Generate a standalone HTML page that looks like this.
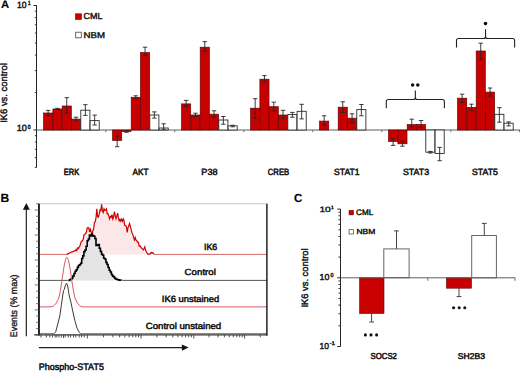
<!DOCTYPE html>
<html><head><meta charset="utf-8"><style>
html,body{margin:0;padding:0;background:#fff;}
svg{display:block;font-family:"Liberation Sans", sans-serif;text-rendering:geometricPrecision;}
</style></head><body>
<svg width="520" height="373" viewBox="0 0 520 373">
<rect width="520" height="373" fill="#fff"/>
<line x1="36.5" y1="5.3" x2="36.5" y2="167.48" stroke="#262626" stroke-width="1"/>
<line x1="33.5" y1="5.50" x2="36.5" y2="5.50" stroke="#262626" stroke-width="1"/>
<line x1="33.5" y1="130.00" x2="36.5" y2="130.00" stroke="#262626" stroke-width="1"/>
<line x1="34.8" y1="92.52" x2="36.5" y2="92.52" stroke="#262626" stroke-width="0.9"/>
<line x1="34.8" y1="70.60" x2="36.5" y2="70.60" stroke="#262626" stroke-width="0.9"/>
<line x1="34.8" y1="55.04" x2="36.5" y2="55.04" stroke="#262626" stroke-width="0.9"/>
<line x1="34.8" y1="42.98" x2="36.5" y2="42.98" stroke="#262626" stroke-width="0.9"/>
<line x1="34.8" y1="33.12" x2="36.5" y2="33.12" stroke="#262626" stroke-width="0.9"/>
<line x1="34.8" y1="24.79" x2="36.5" y2="24.79" stroke="#262626" stroke-width="0.9"/>
<line x1="34.8" y1="17.57" x2="36.5" y2="17.57" stroke="#262626" stroke-width="0.9"/>
<line x1="34.8" y1="11.20" x2="36.5" y2="11.20" stroke="#262626" stroke-width="0.9"/>
<line x1="34.8" y1="167.48" x2="36.5" y2="167.48" stroke="#262626" stroke-width="0.9"/>
<line x1="34.8" y1="157.62" x2="36.5" y2="157.62" stroke="#262626" stroke-width="0.9"/>
<line x1="34.8" y1="149.29" x2="36.5" y2="149.29" stroke="#262626" stroke-width="0.9"/>
<line x1="34.8" y1="142.07" x2="36.5" y2="142.07" stroke="#262626" stroke-width="0.9"/>
<line x1="34.8" y1="135.70" x2="36.5" y2="135.70" stroke="#262626" stroke-width="0.9"/>
<line x1="36.5" y1="130.0" x2="520" y2="130.0" stroke="#5e5e5e" stroke-width="1"/>
<line x1="105.8" y1="130.0" x2="105.8" y2="132.2" stroke="#5e5e5e" stroke-width="0.9"/>
<line x1="174.8" y1="130.0" x2="174.8" y2="132.2" stroke="#5e5e5e" stroke-width="0.9"/>
<line x1="243.8" y1="130.0" x2="243.8" y2="132.2" stroke="#5e5e5e" stroke-width="0.9"/>
<line x1="312.8" y1="130.0" x2="312.8" y2="132.2" stroke="#5e5e5e" stroke-width="0.9"/>
<line x1="381.8" y1="130.0" x2="381.8" y2="132.2" stroke="#5e5e5e" stroke-width="0.9"/>
<line x1="450.8" y1="130.0" x2="450.8" y2="132.2" stroke="#5e5e5e" stroke-width="0.9"/>
<line x1="519.4" y1="130.0" x2="519.4" y2="132.2" stroke="#5e5e5e" stroke-width="0.9"/>
<rect x="43.60" y="113.00" width="9.10" height="17.00" fill="#c80000" stroke="#6a0000" stroke-width="0.7"/>
<line x1="48.15" y1="110.40" x2="48.15" y2="115.60" stroke="#262626" stroke-width="0.9"/>
<line x1="45.95" y1="110.40" x2="50.35" y2="110.40" stroke="#262626" stroke-width="0.9"/>
<line x1="45.95" y1="115.60" x2="50.35" y2="115.60" stroke="#262626" stroke-width="0.9"/>
<rect x="52.90" y="109.00" width="9.10" height="21.00" fill="#c80000" stroke="#6a0000" stroke-width="0.7"/>
<line x1="57.45" y1="108.40" x2="57.45" y2="109.60" stroke="#262626" stroke-width="0.9"/>
<line x1="55.25" y1="108.40" x2="59.65" y2="108.40" stroke="#262626" stroke-width="0.9"/>
<line x1="55.25" y1="109.60" x2="59.65" y2="109.60" stroke="#262626" stroke-width="0.9"/>
<rect x="62.20" y="106.00" width="9.10" height="24.00" fill="#c80000" stroke="#6a0000" stroke-width="0.7"/>
<line x1="66.75" y1="97.70" x2="66.75" y2="113.00" stroke="#262626" stroke-width="0.9"/>
<line x1="64.55" y1="97.70" x2="68.95" y2="97.70" stroke="#262626" stroke-width="0.9"/>
<line x1="64.55" y1="113.00" x2="68.95" y2="113.00" stroke="#262626" stroke-width="0.9"/>
<rect x="71.50" y="119.10" width="9.10" height="10.90" fill="#c80000" stroke="#6a0000" stroke-width="0.7"/>
<line x1="76.05" y1="117.20" x2="76.05" y2="120.80" stroke="#262626" stroke-width="0.9"/>
<line x1="73.85" y1="117.20" x2="78.25" y2="117.20" stroke="#262626" stroke-width="0.9"/>
<line x1="73.85" y1="120.80" x2="78.25" y2="120.80" stroke="#262626" stroke-width="0.9"/>
<rect x="80.80" y="110.20" width="9.10" height="19.80" fill="#fff" stroke="#222" stroke-width="0.85"/>
<line x1="85.35" y1="104.70" x2="85.35" y2="115.40" stroke="#262626" stroke-width="0.9"/>
<line x1="83.15" y1="104.70" x2="87.55" y2="104.70" stroke="#262626" stroke-width="0.9"/>
<line x1="83.15" y1="115.40" x2="87.55" y2="115.40" stroke="#262626" stroke-width="0.9"/>
<rect x="90.10" y="120.60" width="9.10" height="9.40" fill="#fff" stroke="#222" stroke-width="0.85"/>
<line x1="94.65" y1="115.10" x2="94.65" y2="125.00" stroke="#262626" stroke-width="0.9"/>
<line x1="92.45" y1="115.10" x2="96.85" y2="115.10" stroke="#262626" stroke-width="0.9"/>
<line x1="92.45" y1="125.00" x2="96.85" y2="125.00" stroke="#262626" stroke-width="0.9"/>
<rect x="112.60" y="130.00" width="9.10" height="10.40" fill="#c80000" stroke="#6a0000" stroke-width="0.7"/>
<line x1="117.15" y1="136.00" x2="117.15" y2="146.70" stroke="#262626" stroke-width="0.9"/>
<line x1="114.95" y1="146.70" x2="119.35" y2="146.70" stroke="#262626" stroke-width="0.9"/>
<line x1="114.95" y1="136.00" x2="119.35" y2="136.00" stroke="#262626" stroke-width="0.9"/>
<rect x="121.90" y="130.00" width="9.10" height="1.50" fill="#c80000" stroke="#6a0000" stroke-width="0.7"/>
<line x1="126.45" y1="130.80" x2="126.45" y2="132.30" stroke="#262626" stroke-width="0.9"/>
<line x1="124.25" y1="132.30" x2="128.65" y2="132.30" stroke="#262626" stroke-width="0.9"/>
<line x1="124.25" y1="130.80" x2="128.65" y2="130.80" stroke="#262626" stroke-width="0.9"/>
<rect x="131.20" y="97.30" width="9.10" height="32.70" fill="#c80000" stroke="#6a0000" stroke-width="0.7"/>
<line x1="135.75" y1="95.80" x2="135.75" y2="98.80" stroke="#262626" stroke-width="0.9"/>
<line x1="133.55" y1="95.80" x2="137.95" y2="95.80" stroke="#262626" stroke-width="0.9"/>
<line x1="133.55" y1="98.80" x2="137.95" y2="98.80" stroke="#262626" stroke-width="0.9"/>
<rect x="140.50" y="52.60" width="9.10" height="77.40" fill="#c80000" stroke="#6a0000" stroke-width="0.7"/>
<line x1="145.05" y1="47.20" x2="145.05" y2="55.30" stroke="#262626" stroke-width="0.9"/>
<line x1="142.85" y1="47.20" x2="147.25" y2="47.20" stroke="#262626" stroke-width="0.9"/>
<line x1="142.85" y1="55.30" x2="147.25" y2="55.30" stroke="#262626" stroke-width="0.9"/>
<rect x="149.80" y="115.00" width="9.10" height="15.00" fill="#fff" stroke="#222" stroke-width="0.85"/>
<line x1="154.35" y1="111.90" x2="154.35" y2="118.10" stroke="#262626" stroke-width="0.9"/>
<line x1="152.15" y1="111.90" x2="156.55" y2="111.90" stroke="#262626" stroke-width="0.9"/>
<line x1="152.15" y1="118.10" x2="156.55" y2="118.10" stroke="#262626" stroke-width="0.9"/>
<rect x="159.10" y="128.00" width="9.10" height="2.00" fill="#fff" stroke="#222" stroke-width="0.85"/>
<line x1="163.65" y1="123.80" x2="163.65" y2="129.30" stroke="#262626" stroke-width="0.9"/>
<line x1="161.45" y1="123.80" x2="165.85" y2="123.80" stroke="#262626" stroke-width="0.9"/>
<line x1="161.45" y1="129.30" x2="165.85" y2="129.30" stroke="#262626" stroke-width="0.9"/>
<rect x="181.60" y="103.90" width="9.10" height="26.10" fill="#c80000" stroke="#6a0000" stroke-width="0.7"/>
<line x1="186.15" y1="100.40" x2="186.15" y2="106.50" stroke="#262626" stroke-width="0.9"/>
<line x1="183.95" y1="100.40" x2="188.35" y2="100.40" stroke="#262626" stroke-width="0.9"/>
<line x1="183.95" y1="106.50" x2="188.35" y2="106.50" stroke="#262626" stroke-width="0.9"/>
<rect x="190.90" y="115.00" width="9.10" height="15.00" fill="#c80000" stroke="#6a0000" stroke-width="0.7"/>
<line x1="195.45" y1="113.20" x2="195.45" y2="116.50" stroke="#262626" stroke-width="0.9"/>
<line x1="193.25" y1="113.20" x2="197.65" y2="113.20" stroke="#262626" stroke-width="0.9"/>
<line x1="193.25" y1="116.50" x2="197.65" y2="116.50" stroke="#262626" stroke-width="0.9"/>
<rect x="200.20" y="47.20" width="9.10" height="82.80" fill="#c80000" stroke="#6a0000" stroke-width="0.7"/>
<line x1="204.75" y1="41.60" x2="204.75" y2="51.30" stroke="#262626" stroke-width="0.9"/>
<line x1="202.55" y1="41.60" x2="206.95" y2="41.60" stroke="#262626" stroke-width="0.9"/>
<line x1="202.55" y1="51.30" x2="206.95" y2="51.30" stroke="#262626" stroke-width="0.9"/>
<rect x="209.50" y="114.20" width="9.10" height="15.80" fill="#c80000" stroke="#6a0000" stroke-width="0.7"/>
<line x1="214.05" y1="110.80" x2="214.05" y2="117.00" stroke="#262626" stroke-width="0.9"/>
<line x1="211.85" y1="110.80" x2="216.25" y2="110.80" stroke="#262626" stroke-width="0.9"/>
<line x1="211.85" y1="117.00" x2="216.25" y2="117.00" stroke="#262626" stroke-width="0.9"/>
<rect x="218.80" y="120.00" width="9.10" height="10.00" fill="#fff" stroke="#222" stroke-width="0.85"/>
<line x1="223.35" y1="116.50" x2="223.35" y2="124.20" stroke="#262626" stroke-width="0.9"/>
<line x1="221.15" y1="116.50" x2="225.55" y2="116.50" stroke="#262626" stroke-width="0.9"/>
<line x1="221.15" y1="124.20" x2="225.55" y2="124.20" stroke="#262626" stroke-width="0.9"/>
<rect x="228.10" y="125.80" width="9.10" height="4.20" fill="#fff" stroke="#222" stroke-width="0.85"/>
<line x1="232.65" y1="125.30" x2="232.65" y2="126.80" stroke="#262626" stroke-width="0.9"/>
<line x1="230.45" y1="125.30" x2="234.85" y2="125.30" stroke="#262626" stroke-width="0.9"/>
<line x1="230.45" y1="126.80" x2="234.85" y2="126.80" stroke="#262626" stroke-width="0.9"/>
<rect x="250.60" y="108.20" width="9.10" height="21.80" fill="#c80000" stroke="#6a0000" stroke-width="0.7"/>
<line x1="255.15" y1="98.70" x2="255.15" y2="118.30" stroke="#262626" stroke-width="0.9"/>
<line x1="252.95" y1="98.70" x2="257.35" y2="98.70" stroke="#262626" stroke-width="0.9"/>
<line x1="252.95" y1="118.30" x2="257.35" y2="118.30" stroke="#262626" stroke-width="0.9"/>
<rect x="259.90" y="79.20" width="9.10" height="50.80" fill="#c80000" stroke="#6a0000" stroke-width="0.7"/>
<line x1="264.45" y1="75.60" x2="264.45" y2="82.00" stroke="#262626" stroke-width="0.9"/>
<line x1="262.25" y1="75.60" x2="266.65" y2="75.60" stroke="#262626" stroke-width="0.9"/>
<line x1="262.25" y1="82.00" x2="266.65" y2="82.00" stroke="#262626" stroke-width="0.9"/>
<rect x="269.20" y="106.70" width="9.10" height="23.30" fill="#c80000" stroke="#6a0000" stroke-width="0.7"/>
<line x1="273.75" y1="102.20" x2="273.75" y2="111.00" stroke="#262626" stroke-width="0.9"/>
<line x1="271.55" y1="102.20" x2="275.95" y2="102.20" stroke="#262626" stroke-width="0.9"/>
<line x1="271.55" y1="111.00" x2="275.95" y2="111.00" stroke="#262626" stroke-width="0.9"/>
<rect x="278.50" y="115.00" width="9.10" height="15.00" fill="#c80000" stroke="#6a0000" stroke-width="0.7"/>
<line x1="283.05" y1="110.30" x2="283.05" y2="118.30" stroke="#262626" stroke-width="0.9"/>
<line x1="280.85" y1="110.30" x2="285.25" y2="110.30" stroke="#262626" stroke-width="0.9"/>
<line x1="280.85" y1="118.30" x2="285.25" y2="118.30" stroke="#262626" stroke-width="0.9"/>
<rect x="287.80" y="114.60" width="9.10" height="15.40" fill="#fff" stroke="#222" stroke-width="0.85"/>
<line x1="292.35" y1="112.40" x2="292.35" y2="117.20" stroke="#262626" stroke-width="0.9"/>
<line x1="290.15" y1="112.40" x2="294.55" y2="112.40" stroke="#262626" stroke-width="0.9"/>
<line x1="290.15" y1="117.20" x2="294.55" y2="117.20" stroke="#262626" stroke-width="0.9"/>
<rect x="297.10" y="111.30" width="9.10" height="18.70" fill="#fff" stroke="#222" stroke-width="0.85"/>
<line x1="301.65" y1="104.30" x2="301.65" y2="118.90" stroke="#262626" stroke-width="0.9"/>
<line x1="299.45" y1="104.30" x2="303.85" y2="104.30" stroke="#262626" stroke-width="0.9"/>
<line x1="299.45" y1="118.90" x2="303.85" y2="118.90" stroke="#262626" stroke-width="0.9"/>
<rect x="319.60" y="121.10" width="9.10" height="8.90" fill="#c80000" stroke="#6a0000" stroke-width="0.7"/>
<line x1="324.15" y1="115.80" x2="324.15" y2="125.40" stroke="#262626" stroke-width="0.9"/>
<line x1="321.95" y1="115.80" x2="326.35" y2="115.80" stroke="#262626" stroke-width="0.9"/>
<line x1="321.95" y1="125.40" x2="326.35" y2="125.40" stroke="#262626" stroke-width="0.9"/>
<rect x="338.20" y="107.20" width="9.10" height="22.80" fill="#c80000" stroke="#6a0000" stroke-width="0.7"/>
<line x1="342.75" y1="101.80" x2="342.75" y2="112.50" stroke="#262626" stroke-width="0.9"/>
<line x1="340.55" y1="101.80" x2="344.95" y2="101.80" stroke="#262626" stroke-width="0.9"/>
<line x1="340.55" y1="112.50" x2="344.95" y2="112.50" stroke="#262626" stroke-width="0.9"/>
<rect x="347.50" y="118.20" width="9.10" height="11.80" fill="#c80000" stroke="#6a0000" stroke-width="0.7"/>
<line x1="352.05" y1="113.80" x2="352.05" y2="123.00" stroke="#262626" stroke-width="0.9"/>
<line x1="349.85" y1="113.80" x2="354.25" y2="113.80" stroke="#262626" stroke-width="0.9"/>
<line x1="349.85" y1="123.00" x2="354.25" y2="123.00" stroke="#262626" stroke-width="0.9"/>
<rect x="356.80" y="109.60" width="9.10" height="20.40" fill="#fff" stroke="#222" stroke-width="0.85"/>
<line x1="361.35" y1="104.50" x2="361.35" y2="115.80" stroke="#262626" stroke-width="0.9"/>
<line x1="359.15" y1="104.50" x2="363.55" y2="104.50" stroke="#262626" stroke-width="0.9"/>
<line x1="359.15" y1="115.80" x2="363.55" y2="115.80" stroke="#262626" stroke-width="0.9"/>
<rect x="388.60" y="130.00" width="9.10" height="11.40" fill="#c80000" stroke="#6a0000" stroke-width="0.7"/>
<line x1="393.15" y1="138.50" x2="393.15" y2="145.40" stroke="#262626" stroke-width="0.9"/>
<line x1="390.95" y1="145.40" x2="395.35" y2="145.40" stroke="#262626" stroke-width="0.9"/>
<line x1="390.95" y1="138.50" x2="395.35" y2="138.50" stroke="#262626" stroke-width="0.9"/>
<rect x="397.90" y="130.00" width="9.10" height="13.80" fill="#c80000" stroke="#6a0000" stroke-width="0.7"/>
<line x1="402.45" y1="141.50" x2="402.45" y2="146.20" stroke="#262626" stroke-width="0.9"/>
<line x1="400.25" y1="146.20" x2="404.65" y2="146.20" stroke="#262626" stroke-width="0.9"/>
<line x1="400.25" y1="141.50" x2="404.65" y2="141.50" stroke="#262626" stroke-width="0.9"/>
<rect x="407.20" y="124.50" width="9.10" height="5.50" fill="#c80000" stroke="#6a0000" stroke-width="0.7"/>
<line x1="411.75" y1="119.20" x2="411.75" y2="127.00" stroke="#262626" stroke-width="0.9"/>
<line x1="409.55" y1="119.20" x2="413.95" y2="119.20" stroke="#262626" stroke-width="0.9"/>
<line x1="409.55" y1="127.00" x2="413.95" y2="127.00" stroke="#262626" stroke-width="0.9"/>
<rect x="416.50" y="124.50" width="9.10" height="5.50" fill="#c80000" stroke="#6a0000" stroke-width="0.7"/>
<line x1="421.05" y1="120.50" x2="421.05" y2="127.50" stroke="#262626" stroke-width="0.9"/>
<line x1="418.85" y1="120.50" x2="423.25" y2="120.50" stroke="#262626" stroke-width="0.9"/>
<line x1="418.85" y1="127.50" x2="423.25" y2="127.50" stroke="#262626" stroke-width="0.9"/>
<rect x="425.80" y="130.00" width="9.10" height="22.20" fill="#fff" stroke="#222" stroke-width="0.85"/>
<line x1="430.35" y1="151.40" x2="430.35" y2="153.00" stroke="#262626" stroke-width="0.9"/>
<line x1="428.15" y1="153.00" x2="432.55" y2="153.00" stroke="#262626" stroke-width="0.9"/>
<line x1="428.15" y1="151.40" x2="432.55" y2="151.40" stroke="#262626" stroke-width="0.9"/>
<rect x="435.10" y="130.00" width="9.10" height="23.50" fill="#fff" stroke="#222" stroke-width="0.85"/>
<line x1="439.65" y1="147.40" x2="439.65" y2="160.70" stroke="#262626" stroke-width="0.9"/>
<line x1="437.45" y1="160.70" x2="441.85" y2="160.70" stroke="#262626" stroke-width="0.9"/>
<line x1="437.45" y1="147.40" x2="441.85" y2="147.40" stroke="#262626" stroke-width="0.9"/>
<rect x="457.60" y="98.20" width="9.10" height="31.80" fill="#c80000" stroke="#6a0000" stroke-width="0.7"/>
<line x1="462.15" y1="94.20" x2="462.15" y2="102.50" stroke="#262626" stroke-width="0.9"/>
<line x1="459.95" y1="94.20" x2="464.35" y2="94.20" stroke="#262626" stroke-width="0.9"/>
<line x1="459.95" y1="102.50" x2="464.35" y2="102.50" stroke="#262626" stroke-width="0.9"/>
<rect x="466.90" y="107.40" width="9.10" height="22.60" fill="#c80000" stroke="#6a0000" stroke-width="0.7"/>
<line x1="471.45" y1="104.20" x2="471.45" y2="110.60" stroke="#262626" stroke-width="0.9"/>
<line x1="469.25" y1="104.20" x2="473.65" y2="104.20" stroke="#262626" stroke-width="0.9"/>
<line x1="469.25" y1="110.60" x2="473.65" y2="110.60" stroke="#262626" stroke-width="0.9"/>
<rect x="476.20" y="51.00" width="9.10" height="79.00" fill="#c80000" stroke="#6a0000" stroke-width="0.7"/>
<line x1="480.75" y1="43.20" x2="480.75" y2="59.30" stroke="#262626" stroke-width="0.9"/>
<line x1="478.55" y1="43.20" x2="482.95" y2="43.20" stroke="#262626" stroke-width="0.9"/>
<line x1="478.55" y1="59.30" x2="482.95" y2="59.30" stroke="#262626" stroke-width="0.9"/>
<rect x="485.50" y="92.10" width="9.10" height="37.90" fill="#c80000" stroke="#6a0000" stroke-width="0.7"/>
<line x1="490.05" y1="88.00" x2="490.05" y2="96.10" stroke="#262626" stroke-width="0.9"/>
<line x1="487.85" y1="88.00" x2="492.25" y2="88.00" stroke="#262626" stroke-width="0.9"/>
<line x1="487.85" y1="96.10" x2="492.25" y2="96.10" stroke="#262626" stroke-width="0.9"/>
<rect x="494.80" y="114.30" width="9.10" height="15.70" fill="#fff" stroke="#222" stroke-width="0.85"/>
<line x1="499.35" y1="107.70" x2="499.35" y2="122.20" stroke="#262626" stroke-width="0.9"/>
<line x1="497.15" y1="107.70" x2="501.55" y2="107.70" stroke="#262626" stroke-width="0.9"/>
<line x1="497.15" y1="122.20" x2="501.55" y2="122.20" stroke="#262626" stroke-width="0.9"/>
<rect x="504.10" y="123.20" width="9.10" height="6.80" fill="#fff" stroke="#222" stroke-width="0.85"/>
<line x1="508.65" y1="121.90" x2="508.65" y2="125.90" stroke="#262626" stroke-width="0.9"/>
<line x1="506.45" y1="121.90" x2="510.85" y2="121.90" stroke="#262626" stroke-width="0.9"/>
<line x1="506.45" y1="125.90" x2="510.85" y2="125.90" stroke="#262626" stroke-width="0.9"/>
<path d="M386.3,108.3 L386.3,101.5 Q386.3,99.5 388.3,99.5 L413.35,99.5 Q415.35,99.5 415.35,97.5 L415.35,90.6 M415.35,97.5 Q415.35,99.5 417.35,99.5 L442.4,99.5 Q444.4,99.5 444.4,101.5 L444.4,108.3" fill="none" stroke="#222" stroke-width="1.1"/>
<path d="M456.5,47.6 L456.5,40.5 Q456.5,38.5 458.5,38.5 L483.55,38.5 Q485.55,38.5 485.55,36.5 L485.55,29.2 M485.55,36.5 Q485.55,38.5 487.55,38.5 L512.6,38.5 Q514.6,38.5 514.6,40.5 L514.6,47.6" fill="none" stroke="#222" stroke-width="1.1"/>
<circle cx="412.6" cy="84.9" r="1.75" fill="#111"/>
<circle cx="417.8" cy="84.9" r="1.75" fill="#111"/>
<circle cx="485.5" cy="23.6" r="1.8" fill="#111"/>
<text transform="translate(63.746,174.550) scale(0.07551,0.09130)" font-size="100" font-weight="normal" fill="#111" stroke="#111" stroke-width="5.99" stroke-linejoin="round">ERK</text>
<text transform="translate(132.450,174.550) scale(0.08229,0.09130)" font-size="100" font-weight="normal" fill="#111" stroke="#111" stroke-width="5.76" stroke-linejoin="round">AKT</text>
<text transform="translate(201.323,174.550) scale(0.09091,0.09000)" font-size="100" font-weight="normal" fill="#111" stroke="#111" stroke-width="5.53" stroke-linejoin="round">P38</text>
<text transform="translate(267.764,174.550) scale(0.07724,0.09000)" font-size="100" font-weight="normal" fill="#111" stroke="#111" stroke-width="5.98" stroke-linejoin="round">CREB</text>
<text transform="translate(334.018,174.550) scale(0.08636,0.09000)" font-size="100" font-weight="normal" fill="#111" stroke="#111" stroke-width="5.67" stroke-linejoin="round">STAT1</text>
<text transform="translate(403.011,174.550) scale(0.08780,0.09000)" font-size="100" font-weight="normal" fill="#111" stroke="#111" stroke-width="5.62" stroke-linejoin="round">STAT3</text>
<text transform="translate(472.014,174.550) scale(0.08711,0.09000)" font-size="100" font-weight="normal" fill="#111" stroke="#111" stroke-width="5.65" stroke-linejoin="round">STAT5</text>
<text transform="translate(16.925,8.090) scale(0.08566,0.08971)" font-size="100" font-weight="normal" fill="#111" stroke="#111" stroke-width="4.79" stroke-linejoin="round">10</text>
<text transform="translate(28.042,5.190) scale(0.04605,0.06058)" font-size="100" font-weight="normal" fill="#111" stroke="#111" stroke-width="7.88" stroke-linejoin="round">1</text>
<text transform="translate(16.684,131.390) scale(0.09071,0.08971)" font-size="100" font-weight="normal" fill="#111" stroke="#111" stroke-width="4.66" stroke-linejoin="round">10</text>
<text transform="translate(27.712,128.690) scale(0.04958,0.05971)" font-size="100" font-weight="normal" fill="#111" stroke="#111" stroke-width="7.69" stroke-linejoin="round">0</text>
<text transform="translate(7.140,122.837) rotate(-90) scale(0.09414,0.09486)" font-size="100" font-weight="normal" fill="#111" stroke="#111" stroke-width="4.44" stroke-linejoin="round">IK6 vs. control</text>
<rect x="75.5" y="13.8" width="6" height="5.6" fill="#c80000" stroke="#6a0000" stroke-width="0.6"/>
<text transform="translate(83.560,19.090) scale(0.09005,0.08686)" font-size="100" font-weight="normal" fill="#111" stroke="#111" stroke-width="4.75" stroke-linejoin="round">CML</text>
<rect x="75.7" y="32.2" width="5.6" height="5.6" fill="#fff" stroke="#444" stroke-width="0.8"/>
<text transform="translate(83.534,37.790) scale(0.09699,0.08377)" font-size="100" font-weight="normal" fill="#111" stroke="#111" stroke-width="4.65" stroke-linejoin="round">NBM</text>
<text transform="translate(1.011,7.950) scale(0.11288,0.10870)" font-size="100" font-weight="bold" fill="#000" stroke="#000" stroke-width="0.90" stroke-linejoin="round">A</text>
<text transform="translate(0.401,202.450) scale(0.12131,0.11884)" font-size="100" font-weight="bold" fill="#000" stroke="#000" stroke-width="0.83" stroke-linejoin="round">B</text>
<line x1="26.3" y1="336.3" x2="26.3" y2="209" stroke="#111" stroke-width="1.1"/>
<path d="M22.9,209.8 L29.8,209.8 L26.3,203.0 Z" fill="#111"/>
<line x1="38.9" y1="347.6" x2="182.5" y2="347.6" stroke="#222" stroke-width="1.2"/>
<path d="M181.9,344.6 L181.9,350.7 L188.6,347.6 Z" fill="#111"/>
<text transform="translate(38.629,370.450) scale(0.09017,0.09444)" font-size="100" font-weight="normal" fill="#111" stroke="#111" stroke-width="5.42" stroke-linejoin="round">Phospho-STAT5</text>
<text transform="translate(17.250,337.262) rotate(-90) scale(0.08902,0.09583)" font-size="100" font-weight="normal" fill="#111" stroke="#111" stroke-width="3.25" stroke-linejoin="round">Events (% max)</text>
<path d="M38.90,254.40 L66.40,254.40 L67.20,254.32 L68.00,253.54 L68.80,253.43 L69.60,252.92 L70.40,252.46 L71.20,252.14 L72.00,251.94 L72.80,251.61 L73.60,251.45 L74.40,250.84 L75.20,250.91 L76.00,249.57 L76.80,250.50 L77.60,247.94 L78.40,248.52 L79.20,247.06 L80.00,245.75 L80.80,242.70 L81.60,240.99 L82.40,240.86 L83.20,239.39 L84.00,234.80 L84.80,234.26 L85.60,233.53 L86.40,232.11 L87.20,228.08 L88.00,227.47 L88.80,227.96 L89.60,231.95 L90.40,229.39 L91.20,232.13 L92.00,234.88 L92.80,230.99 L93.60,229.04 L94.40,222.67 L95.20,221.96 L96.00,217.93 L96.80,208.87 L97.60,216.81 L98.40,216.97 L99.20,214.21 L100.00,209.88 L100.80,210.64 L101.60,204.23 L102.40,210.64 L103.20,212.58 L104.00,208.87 L104.80,210.42 L105.60,210.04 L106.40,208.88 L107.20,213.83 L108.00,213.74 L108.80,216.16 L109.60,218.98 L110.40,216.42 L111.20,217.32 L112.00,214.66 L112.80,218.98 L113.60,216.98 L114.40,211.50 L115.20,215.43 L116.00,218.70 L116.80,216.18 L117.60,213.15 L118.40,217.95 L119.20,220.68 L120.00,219.40 L120.80,221.24 L121.60,219.35 L122.40,221.30 L123.20,218.77 L124.00,220.39 L124.80,225.50 L125.60,225.57 L126.40,226.63 L127.20,232.38 L128.00,227.55 L128.80,225.38 L129.60,223.40 L130.40,227.01 L131.20,229.60 L132.00,233.10 L132.80,234.42 L133.60,237.42 L134.40,239.98 L135.20,237.53 L136.00,240.06 L136.80,240.73 L137.60,242.29 L138.40,242.30 L139.20,246.21 L140.00,245.83 L140.80,247.22 L141.60,248.03 L142.40,248.92 L143.20,250.00 L144.00,248.74 L144.80,246.83 L145.60,250.29 L146.40,251.82 L147.20,253.21 L148.00,254.35 L148.80,253.99 L149.60,254.08 L150.40,253.49 L151.20,252.45 L152.00,253.23 L152.80,252.59 L153.60,253.85 L154.40,254.11 L266.90,254.40 Z" fill="#fce8e8" stroke="none"/>
<path d="M38.90,280.40 L68.50,280.40 L69.60,280.40 L69.60,279.74 L70.70,279.74 L70.70,279.12 L71.80,279.12 L71.80,277.98 L72.90,277.98 L72.90,275.83 L74.00,275.83 L74.00,273.56 L75.10,273.56 L75.10,271.25 L76.20,271.25 L76.20,269.76 L77.30,269.76 L77.30,267.34 L78.40,267.34 L78.40,265.46 L79.50,265.46 L79.50,264.71 L80.60,264.71 L80.60,263.21 L81.70,263.21 L81.70,258.56 L82.80,258.56 L82.80,255.90 L83.90,255.90 L83.90,251.76 L85.00,251.76 L85.00,250.07 L86.10,250.07 L86.10,246.26 L87.20,246.26 L87.20,240.79 L88.30,240.79 L88.30,239.07 L89.40,239.07 L89.40,235.12 L90.50,235.12 L90.50,235.93 L91.60,235.93 L91.60,234.38 L92.70,234.38 L92.70,235.86 L93.80,235.86 L93.80,236.25 L94.90,236.25 L94.90,238.56 L96.00,238.56 L96.00,245.43 L97.10,245.43 L97.10,244.97 L98.20,244.97 L98.20,244.64 L99.30,244.64 L99.30,248.25 L100.40,248.25 L100.40,251.37 L101.50,251.37 L101.50,254.10 L102.60,254.10 L102.60,255.32 L103.70,255.32 L103.70,258.21 L104.80,258.21 L104.80,258.93 L105.90,258.93 L105.90,262.42 L107.00,262.42 L107.00,264.51 L108.10,264.51 L108.10,267.45 L109.20,267.45 L109.20,270.29 L110.30,270.29 L110.30,271.95 L111.40,271.95 L111.40,274.47 L112.50,274.47 L112.50,276.15 L113.60,276.15 L113.60,276.99 L114.70,276.99 L114.70,278.38 L115.80,278.38 L115.80,279.02 L116.90,279.02 L116.90,279.49 L118.00,279.49 L118.00,279.78 L119.10,279.78 L119.10,280.09 L120.20,280.09 L120.20,280.29 L121.30,280.29 L121.30,280.34 L266.90,280.40 Z" fill="#e4e4e4" stroke="none"/>
<line x1="39.1" y1="203.8" x2="266.9" y2="203.8" stroke="#c8c8c8" stroke-width="1"/>
<path d="M38.90,254.40 L66.40,254.40" fill="none" stroke="#d05a5a" stroke-width="0.9"/>
<path d="M154.60,254.40 L266.90,254.40" fill="none" stroke="#d05a5a" stroke-width="0.9"/>
<path d="M66.40,254.40 L67.20,254.32 L68.00,253.54 L68.80,253.43 L69.60,252.92 L70.40,252.46 L71.20,252.14 L72.00,251.94 L72.80,251.61 L73.60,251.45 L74.40,250.84 L75.20,250.91 L76.00,249.57 L76.80,250.50 L77.60,247.94 L78.40,248.52 L79.20,247.06 L80.00,245.75 L80.80,242.70 L81.60,240.99 L82.40,240.86 L83.20,239.39 L84.00,234.80 L84.80,234.26 L85.60,233.53 L86.40,232.11 L87.20,228.08 L88.00,227.47 L88.80,227.96 L89.60,231.95 L90.40,229.39 L91.20,232.13 L92.00,234.88 L92.80,230.99 L93.60,229.04 L94.40,222.67 L95.20,221.96 L96.00,217.93 L96.80,208.87 L97.60,216.81 L98.40,216.97 L99.20,214.21 L100.00,209.88 L100.80,210.64 L101.60,204.23 L102.40,210.64 L103.20,212.58 L104.00,208.87 L104.80,210.42 L105.60,210.04 L106.40,208.88 L107.20,213.83 L108.00,213.74 L108.80,216.16 L109.60,218.98 L110.40,216.42 L111.20,217.32 L112.00,214.66 L112.80,218.98 L113.60,216.98 L114.40,211.50 L115.20,215.43 L116.00,218.70 L116.80,216.18 L117.60,213.15 L118.40,217.95 L119.20,220.68 L120.00,219.40 L120.80,221.24 L121.60,219.35 L122.40,221.30 L123.20,218.77 L124.00,220.39 L124.80,225.50 L125.60,225.57 L126.40,226.63 L127.20,232.38 L128.00,227.55 L128.80,225.38 L129.60,223.40 L130.40,227.01 L131.20,229.60 L132.00,233.10 L132.80,234.42 L133.60,237.42 L134.40,239.98 L135.20,237.53 L136.00,240.06 L136.80,240.73 L137.60,242.29 L138.40,242.30 L139.20,246.21 L140.00,245.83 L140.80,247.22 L141.60,248.03 L142.40,248.92 L143.20,250.00 L144.00,248.74 L144.80,246.83 L145.60,250.29 L146.40,251.82 L147.20,253.21 L148.00,254.35 L148.80,253.99 L149.60,254.08 L150.40,253.49 L151.20,252.45 L152.00,253.23 L152.80,252.59 L153.60,253.85 L154.40,254.11" fill="none" stroke="#d00000" stroke-width="1.2" stroke-linejoin="miter"/>
<path d="M38.90,280.40 L68.50,280.40" fill="none" stroke="#444" stroke-width="0.9"/>
<path d="M122.20,280.40 L266.90,280.40" fill="none" stroke="#444" stroke-width="0.9"/>
<path d="M68.50,280.40 L69.60,280.40 L69.60,279.74 L70.70,279.74 L70.70,279.12 L71.80,279.12 L71.80,277.98 L72.90,277.98 L72.90,275.83 L74.00,275.83 L74.00,273.56 L75.10,273.56 L75.10,271.25 L76.20,271.25 L76.20,269.76 L77.30,269.76 L77.30,267.34 L78.40,267.34 L78.40,265.46 L79.50,265.46 L79.50,264.71 L80.60,264.71 L80.60,263.21 L81.70,263.21 L81.70,258.56 L82.80,258.56 L82.80,255.90 L83.90,255.90 L83.90,251.76 L85.00,251.76 L85.00,250.07 L86.10,250.07 L86.10,246.26 L87.20,246.26 L87.20,240.79 L88.30,240.79 L88.30,239.07 L89.40,239.07 L89.40,235.12 L90.50,235.12 L90.50,235.93 L91.60,235.93 L91.60,234.38 L92.70,234.38 L92.70,235.86 L93.80,235.86 L93.80,236.25 L94.90,236.25 L94.90,238.56 L96.00,238.56 L96.00,245.43 L97.10,245.43 L97.10,244.97 L98.20,244.97 L98.20,244.64 L99.30,244.64 L99.30,248.25 L100.40,248.25 L100.40,251.37 L101.50,251.37 L101.50,254.10 L102.60,254.10 L102.60,255.32 L103.70,255.32 L103.70,258.21 L104.80,258.21 L104.80,258.93 L105.90,258.93 L105.90,262.42 L107.00,262.42 L107.00,264.51 L108.10,264.51 L108.10,267.45 L109.20,267.45 L109.20,270.29 L110.30,270.29 L110.30,271.95 L111.40,271.95 L111.40,274.47 L112.50,274.47 L112.50,276.15 L113.60,276.15 L113.60,276.99 L114.70,276.99 L114.70,278.38 L115.80,278.38 L115.80,279.02 L116.90,279.02 L116.90,279.49 L118.00,279.49 L118.00,279.78 L119.10,279.78 L119.10,280.09 L120.20,280.09 L120.20,280.29 L121.30,280.29 L121.30,280.34" fill="none" stroke="#000" stroke-width="1.6" stroke-linejoin="miter"/>
<path d="M38.90,306.90 L50.00,306.90 L53.20,306.30 L56.40,303.00 L58.80,298.00 L60.50,290.00 L61.70,282.00 L62.90,274.00 L64.10,266.00 L65.30,260.50 L66.10,258.30 L66.90,257.30 L67.70,258.30 L68.50,260.50 L69.60,266.00 L70.90,274.00 L72.00,282.00 L73.30,290.00 L74.90,298.00 L77.30,303.00 L80.50,306.30 L83.00,306.90 L266.90,306.90" fill="none" stroke="#d85a6a" stroke-width="1" stroke-linejoin="round"/>
<path d="M38.90,333.50 L54.20,333.50" fill="none" stroke="#8a8a8a" stroke-width="1.1"/>
<path d="M80.50,333.50 L266.90,333.50" fill="none" stroke="#8a8a8a" stroke-width="1.1"/>
<path d="M54.20,333.50 L55.70,331.80 L57.50,325.00 L59.80,316.00 L61.30,305.50 L62.80,295.00 L63.60,290.50 L64.30,289.30 L65.20,286.00 L66.50,283.20 L67.70,286.00 L68.80,293.50 L69.80,298.00 L71.00,302.50 L72.50,310.00 L74.80,320.50 L77.00,328.00 L79.30,332.50 L80.50,333.50" fill="none" stroke="#3a3a3a" stroke-width="1" stroke-linejoin="round"/>
<line x1="38.95" y1="203.8" x2="38.95" y2="335.5" stroke="#111" stroke-width="1.8"/>
<line x1="266.9" y1="203.8" x2="266.9" y2="335.7" stroke="#111" stroke-width="1.4"/>
<line x1="34.2" y1="334.9" x2="266.9" y2="334.9" stroke="#333" stroke-width="1.2"/>
<line x1="36.1" y1="203.80" x2="39.1" y2="203.80" stroke="#555" stroke-width="0.8"/>
<line x1="34.7" y1="210.04" x2="39.1" y2="210.04" stroke="#555" stroke-width="0.8"/>
<line x1="36.1" y1="216.28" x2="39.1" y2="216.28" stroke="#555" stroke-width="0.8"/>
<line x1="36.1" y1="222.52" x2="39.1" y2="222.52" stroke="#555" stroke-width="0.8"/>
<line x1="36.1" y1="228.76" x2="39.1" y2="228.76" stroke="#555" stroke-width="0.8"/>
<line x1="34.7" y1="235.00" x2="39.1" y2="235.00" stroke="#555" stroke-width="0.8"/>
<line x1="36.1" y1="241.24" x2="39.1" y2="241.24" stroke="#555" stroke-width="0.8"/>
<line x1="36.1" y1="247.48" x2="39.1" y2="247.48" stroke="#555" stroke-width="0.8"/>
<line x1="36.1" y1="253.72" x2="39.1" y2="253.72" stroke="#555" stroke-width="0.8"/>
<line x1="34.7" y1="259.96" x2="39.1" y2="259.96" stroke="#555" stroke-width="0.8"/>
<line x1="36.1" y1="266.20" x2="39.1" y2="266.20" stroke="#555" stroke-width="0.8"/>
<line x1="36.1" y1="272.44" x2="39.1" y2="272.44" stroke="#555" stroke-width="0.8"/>
<line x1="36.1" y1="278.68" x2="39.1" y2="278.68" stroke="#555" stroke-width="0.8"/>
<line x1="34.7" y1="284.92" x2="39.1" y2="284.92" stroke="#555" stroke-width="0.8"/>
<line x1="36.1" y1="291.16" x2="39.1" y2="291.16" stroke="#555" stroke-width="0.8"/>
<line x1="36.1" y1="297.40" x2="39.1" y2="297.40" stroke="#555" stroke-width="0.8"/>
<line x1="36.1" y1="303.64" x2="39.1" y2="303.64" stroke="#555" stroke-width="0.8"/>
<line x1="34.7" y1="309.88" x2="39.1" y2="309.88" stroke="#555" stroke-width="0.8"/>
<line x1="36.1" y1="316.12" x2="39.1" y2="316.12" stroke="#555" stroke-width="0.8"/>
<line x1="36.1" y1="322.36" x2="39.1" y2="322.36" stroke="#555" stroke-width="0.8"/>
<line x1="36.1" y1="328.60" x2="39.1" y2="328.60" stroke="#555" stroke-width="0.8"/>
<line x1="36.1" y1="334.84" x2="39.1" y2="334.84" stroke="#555" stroke-width="0.8"/>
<line x1="41.00" y1="334.9" x2="41.00" y2="337.50" stroke="#333" stroke-width="0.85"/>
<line x1="46.40" y1="334.9" x2="46.40" y2="337.50" stroke="#333" stroke-width="0.85"/>
<line x1="49.80" y1="334.9" x2="49.80" y2="337.50" stroke="#333" stroke-width="0.85"/>
<line x1="52.50" y1="334.9" x2="52.50" y2="337.50" stroke="#333" stroke-width="0.85"/>
<line x1="55.20" y1="334.9" x2="55.20" y2="337.50" stroke="#333" stroke-width="0.85"/>
<line x1="56.80" y1="334.9" x2="56.80" y2="337.50" stroke="#333" stroke-width="0.85"/>
<line x1="59.00" y1="334.9" x2="59.00" y2="337.50" stroke="#333" stroke-width="0.85"/>
<line x1="61.40" y1="334.9" x2="61.40" y2="337.50" stroke="#333" stroke-width="0.85"/>
<line x1="65.20" y1="334.9" x2="65.20" y2="337.50" stroke="#333" stroke-width="0.85"/>
<line x1="68.30" y1="334.9" x2="68.30" y2="337.50" stroke="#333" stroke-width="0.85"/>
<line x1="70.60" y1="334.9" x2="70.60" y2="337.50" stroke="#333" stroke-width="0.85"/>
<line x1="73.60" y1="334.9" x2="73.60" y2="337.50" stroke="#333" stroke-width="0.85"/>
<line x1="75.80" y1="334.9" x2="75.80" y2="337.50" stroke="#333" stroke-width="0.85"/>
<line x1="79.20" y1="334.9" x2="79.20" y2="337.50" stroke="#333" stroke-width="0.85"/>
<line x1="81.50" y1="334.9" x2="81.50" y2="337.50" stroke="#333" stroke-width="0.85"/>
<line x1="84.20" y1="334.9" x2="84.20" y2="337.50" stroke="#333" stroke-width="0.85"/>
<line x1="63.50" y1="334.9" x2="63.50" y2="338.10" stroke="#333" stroke-width="0.85"/>
<line x1="87.30" y1="334.9" x2="87.30" y2="338.50" stroke="#333" stroke-width="0.85"/>
<line x1="103.47" y1="334.9" x2="103.47" y2="337.30" stroke="#333" stroke-width="0.85"/>
<line x1="112.92" y1="334.9" x2="112.92" y2="337.30" stroke="#333" stroke-width="0.85"/>
<line x1="119.63" y1="334.9" x2="119.63" y2="337.30" stroke="#333" stroke-width="0.85"/>
<line x1="124.83" y1="334.9" x2="124.83" y2="337.30" stroke="#333" stroke-width="0.85"/>
<line x1="129.09" y1="334.9" x2="129.09" y2="337.30" stroke="#333" stroke-width="0.85"/>
<line x1="132.68" y1="334.9" x2="132.68" y2="337.30" stroke="#333" stroke-width="0.85"/>
<line x1="135.80" y1="334.9" x2="135.80" y2="337.30" stroke="#333" stroke-width="0.85"/>
<line x1="138.54" y1="334.9" x2="138.54" y2="337.30" stroke="#333" stroke-width="0.85"/>
<line x1="141.00" y1="334.9" x2="141.00" y2="338.50" stroke="#333" stroke-width="0.85"/>
<line x1="156.89" y1="334.9" x2="156.89" y2="337.30" stroke="#333" stroke-width="0.85"/>
<line x1="166.19" y1="334.9" x2="166.19" y2="337.30" stroke="#333" stroke-width="0.85"/>
<line x1="172.79" y1="334.9" x2="172.79" y2="337.30" stroke="#333" stroke-width="0.85"/>
<line x1="177.91" y1="334.9" x2="177.91" y2="337.30" stroke="#333" stroke-width="0.85"/>
<line x1="182.09" y1="334.9" x2="182.09" y2="337.30" stroke="#333" stroke-width="0.85"/>
<line x1="185.62" y1="334.9" x2="185.62" y2="337.30" stroke="#333" stroke-width="0.85"/>
<line x1="188.68" y1="334.9" x2="188.68" y2="337.30" stroke="#333" stroke-width="0.85"/>
<line x1="191.38" y1="334.9" x2="191.38" y2="337.30" stroke="#333" stroke-width="0.85"/>
<line x1="193.80" y1="334.9" x2="193.80" y2="338.50" stroke="#333" stroke-width="0.85"/>
<line x1="209.09" y1="334.9" x2="209.09" y2="337.30" stroke="#333" stroke-width="0.85"/>
<line x1="218.04" y1="334.9" x2="218.04" y2="337.30" stroke="#333" stroke-width="0.85"/>
<line x1="224.38" y1="334.9" x2="224.38" y2="337.30" stroke="#333" stroke-width="0.85"/>
<line x1="229.31" y1="334.9" x2="229.31" y2="337.30" stroke="#333" stroke-width="0.85"/>
<line x1="233.33" y1="334.9" x2="233.33" y2="337.30" stroke="#333" stroke-width="0.85"/>
<line x1="236.73" y1="334.9" x2="236.73" y2="337.30" stroke="#333" stroke-width="0.85"/>
<line x1="239.68" y1="334.9" x2="239.68" y2="337.30" stroke="#333" stroke-width="0.85"/>
<line x1="242.28" y1="334.9" x2="242.28" y2="337.30" stroke="#333" stroke-width="0.85"/>
<line x1="244.60" y1="334.9" x2="244.60" y2="338.50" stroke="#333" stroke-width="0.85"/>
<line x1="260.25" y1="334.9" x2="260.25" y2="337.30" stroke="#333" stroke-width="0.85"/>
<text transform="translate(203.962,250.450) scale(0.08759,0.09000)" font-size="100" font-weight="normal" fill="#111" stroke="#111" stroke-width="5.63" stroke-linejoin="round">IK6</text>
<text transform="translate(184.564,275.050) scale(0.09711,0.08750)" font-size="100" font-weight="normal" fill="#111" stroke="#111" stroke-width="5.42" stroke-linejoin="round">Control</text>
<text transform="translate(161.804,302.450) scale(0.09396,0.09028)" font-size="100" font-weight="normal" fill="#111" stroke="#111" stroke-width="5.43" stroke-linejoin="round">IK6 unstained</text>
<text transform="translate(145.769,328.550) scale(0.09624,0.09028)" font-size="100" font-weight="normal" fill="#111" stroke="#111" stroke-width="5.36" stroke-linejoin="round">Control unstained</text>
<text transform="translate(293.988,202.450) scale(0.11538,0.11714)" font-size="100" font-weight="bold" fill="#000" stroke="#000" stroke-width="0.86" stroke-linejoin="round">C</text>
<line x1="340.5" y1="209.10" x2="340.5" y2="346.50" stroke="#262626" stroke-width="1"/>
<line x1="337.3" y1="209.10" x2="340.5" y2="209.10" stroke="#262626" stroke-width="1"/>
<line x1="337.3" y1="277.80" x2="340.5" y2="277.80" stroke="#262626" stroke-width="1"/>
<line x1="337.3" y1="346.50" x2="340.5" y2="346.50" stroke="#262626" stroke-width="1"/>
<line x1="338.4" y1="257.12" x2="340.5" y2="257.12" stroke="#262626" stroke-width="0.9"/>
<line x1="338.4" y1="245.02" x2="340.5" y2="245.02" stroke="#262626" stroke-width="0.9"/>
<line x1="338.4" y1="236.44" x2="340.5" y2="236.44" stroke="#262626" stroke-width="0.9"/>
<line x1="338.4" y1="229.78" x2="340.5" y2="229.78" stroke="#262626" stroke-width="0.9"/>
<line x1="338.4" y1="224.34" x2="340.5" y2="224.34" stroke="#262626" stroke-width="0.9"/>
<line x1="338.4" y1="219.74" x2="340.5" y2="219.74" stroke="#262626" stroke-width="0.9"/>
<line x1="338.4" y1="215.76" x2="340.5" y2="215.76" stroke="#262626" stroke-width="0.9"/>
<line x1="338.4" y1="212.24" x2="340.5" y2="212.24" stroke="#262626" stroke-width="0.9"/>
<line x1="338.4" y1="325.82" x2="340.5" y2="325.82" stroke="#262626" stroke-width="0.9"/>
<line x1="338.4" y1="313.72" x2="340.5" y2="313.72" stroke="#262626" stroke-width="0.9"/>
<line x1="338.4" y1="305.14" x2="340.5" y2="305.14" stroke="#262626" stroke-width="0.9"/>
<line x1="338.4" y1="298.48" x2="340.5" y2="298.48" stroke="#262626" stroke-width="0.9"/>
<line x1="338.4" y1="293.04" x2="340.5" y2="293.04" stroke="#262626" stroke-width="0.9"/>
<line x1="338.4" y1="288.44" x2="340.5" y2="288.44" stroke="#262626" stroke-width="0.9"/>
<line x1="338.4" y1="284.46" x2="340.5" y2="284.46" stroke="#262626" stroke-width="0.9"/>
<line x1="338.4" y1="280.94" x2="340.5" y2="280.94" stroke="#262626" stroke-width="0.9"/>
<rect x="359.6" y="277.8" width="24.4" height="35.70" fill="#c80000" stroke="#600" stroke-width="0.6"/>
<rect x="383.8" y="248.9" width="25.3" height="28.80" fill="#fff" stroke="#666" stroke-width="1"/>
<rect x="446.4" y="277.8" width="25.1" height="10.40" fill="#c80000" stroke="#600" stroke-width="0.6"/>
<rect x="471.7" y="235.5" width="24.7" height="42.30" fill="#fff" stroke="#666" stroke-width="1"/>
<line x1="371.6" y1="313.5" x2="371.6" y2="322" stroke="#444" stroke-width="1"/>
<line x1="369.20000000000005" y1="322" x2="374.0" y2="322" stroke="#444" stroke-width="1"/>
<line x1="396.5" y1="248.9" x2="396.5" y2="230.9" stroke="#444" stroke-width="1"/>
<line x1="394.1" y1="230.9" x2="398.9" y2="230.9" stroke="#444" stroke-width="1"/>
<line x1="459" y1="288.2" x2="459" y2="296.6" stroke="#444" stroke-width="1"/>
<line x1="456.6" y1="296.6" x2="461.4" y2="296.6" stroke="#444" stroke-width="1"/>
<line x1="484.3" y1="235.5" x2="484.3" y2="223.4" stroke="#444" stroke-width="1"/>
<line x1="481.90000000000003" y1="223.4" x2="486.7" y2="223.4" stroke="#444" stroke-width="1"/>
<line x1="340.5" y1="277.8" x2="515.2" y2="277.8" stroke="#5e5e5e" stroke-width="1"/>
<line x1="427.8" y1="277.8" x2="427.8" y2="280.8" stroke="#5e5e5e" stroke-width="0.9"/>
<line x1="515" y1="277.8" x2="515" y2="280.8" stroke="#5e5e5e" stroke-width="0.9"/>
<circle cx="365.40" cy="334.9" r="1.55" fill="#111"/>
<circle cx="371.00" cy="334.9" r="1.55" fill="#111"/>
<circle cx="376.60" cy="334.9" r="1.55" fill="#111"/>
<circle cx="453.60" cy="307.8" r="1.55" fill="#111"/>
<circle cx="459.20" cy="307.8" r="1.55" fill="#111"/>
<circle cx="464.80" cy="307.8" r="1.55" fill="#111"/>
<text transform="translate(370.561,359.350) scale(0.07781,0.08714)" font-size="100" font-weight="normal" fill="#111" stroke="#111" stroke-width="6.06" stroke-linejoin="round">SOCS2</text>
<text transform="translate(457.822,359.350) scale(0.08567,0.08429)" font-size="100" font-weight="normal" fill="#111" stroke="#111" stroke-width="5.88" stroke-linejoin="round">SH2B3</text>
<text transform="translate(319.387,212.390) scale(0.10283,0.07686)" font-size="100" font-weight="normal" fill="#111" stroke="#111" stroke-width="4.67" stroke-linejoin="round">10</text>
<text transform="translate(331.123,209.290) scale(0.04837,0.04754)" font-size="100" font-weight="normal" fill="#111" stroke="#111" stroke-width="8.76" stroke-linejoin="round">1</text>
<text transform="translate(319.601,279.790) scale(0.08869,0.08686)" font-size="100" font-weight="normal" fill="#111" stroke="#111" stroke-width="4.79" stroke-linejoin="round">10</text>
<text transform="translate(330.495,277.090) scale(0.05375,0.05829)" font-size="100" font-weight="normal" fill="#111" stroke="#111" stroke-width="7.50" stroke-linejoin="round">0</text>
<text transform="translate(319.533,348.590) scale(0.08465,0.08686)" font-size="100" font-weight="normal" fill="#111" stroke="#111" stroke-width="4.90" stroke-linejoin="round">10</text>
<text transform="translate(329.456,345.090) scale(0.06350,0.05188)" font-size="100" font-weight="normal" fill="#111" stroke="#111" stroke-width="7.28" stroke-linejoin="round">-1</text>
<text transform="translate(307.690,307.530) rotate(-90) scale(0.09333,0.09417)" font-size="100" font-weight="normal" fill="#111" stroke="#111" stroke-width="4.48" stroke-linejoin="round">IK6 vs. control</text>
<rect x="349" y="210.3" width="4.6" height="4.6" fill="#c80000" stroke="#700" stroke-width="0.5"/>
<text transform="translate(356.107,215.290) scale(0.08069,0.07971)" font-size="100" font-weight="normal" fill="#111" stroke="#111" stroke-width="5.24" stroke-linejoin="round">CML</text>
<rect x="349.1" y="229.6" width="4.4" height="4.4" fill="#fff" stroke="#555" stroke-width="0.8"/>
<text transform="translate(356.431,234.090) scale(0.08485,0.07217)" font-size="100" font-weight="normal" fill="#111" stroke="#111" stroke-width="5.35" stroke-linejoin="round">NBM</text>
</svg>
</body></html>
